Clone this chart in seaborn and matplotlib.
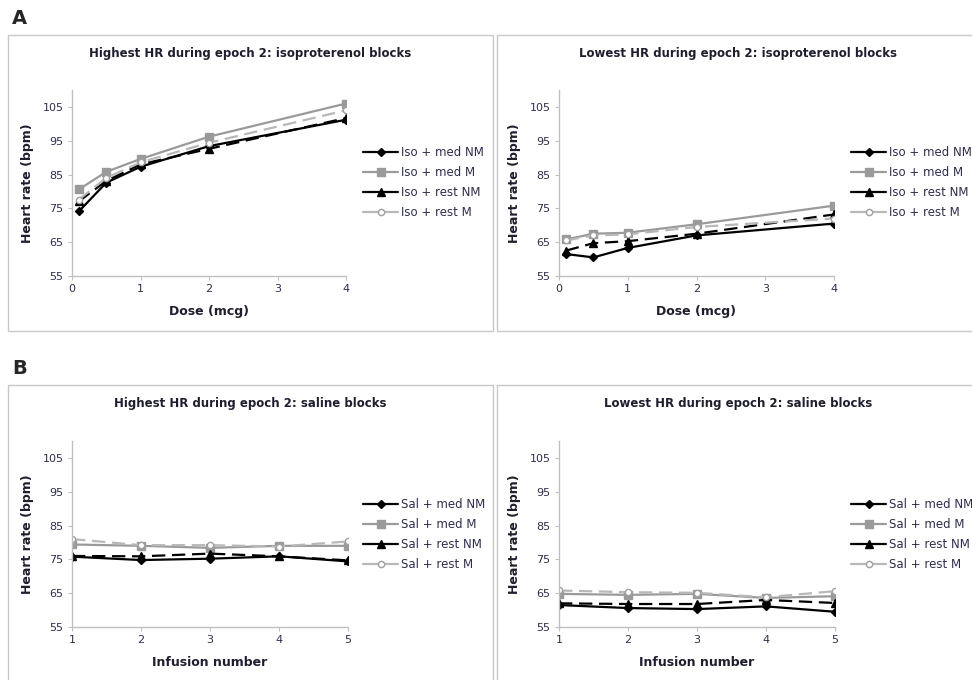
import matplotlib
matplotlib.use("Agg")
import matplotlib.pyplot as plt
from matplotlib.patches import Rectangle
import seaborn as sns
import pandas as pd

sns.set_theme(style="white")
plt.rcParams['font.family'] = ['DejaVu Sans']

# ---- data ----
dose = [0.1, 0.5, 1, 2, 4]
infusion = [1, 2, 3, 4, 5]

iso_high_med_nm = [74.1, 82.6, 87.3, 93.4, 101.2]
iso_high_med_m = [80.6, 85.8, 89.6, 96.2, 106.0]
iso_high_rest_nm = [77.1, 83.1, 88.0, 92.6, 101.7]
iso_high_rest_m = [77.6, 84.0, 88.6, 94.4, 104.0]

iso_low_med_nm = [61.5, 60.5, 63.3, 67.0, 70.5]
iso_low_med_m = [65.8, 67.5, 67.8, 70.3, 75.8]
iso_low_rest_nm = [62.5, 64.7, 65.3, 67.5, 73.2]
iso_low_rest_m = [65.5, 67.0, 67.3, 69.5, 72.0]

sal_high_med_nm = [75.8, 74.8, 75.2, 75.9, 74.4]
sal_high_med_m = [79.4, 79.0, 78.4, 79.0, 79.0]
sal_high_rest_nm = [76.0, 75.9, 76.7, 75.9, 74.7]
sal_high_rest_m = [81.0, 79.2, 79.2, 78.8, 80.3]

sal_low_med_nm = [61.5, 60.6, 60.3, 61.1, 59.5]
sal_low_med_m = [64.8, 64.5, 64.8, 63.6, 64.1]
sal_low_rest_nm = [62.0, 61.8, 61.8, 63.0, 62.1]
sal_low_rest_m = [65.8, 65.3, 65.1, 63.8, 65.6]

iso_labels = ["Iso + med NM", "Iso + med M", "Iso + rest NM", "Iso + rest M"]
sal_labels = ["Sal + med NM", "Sal + med M", "Sal + rest NM", "Sal + rest M"]

titles = ["Highest HR during epoch 2: isoproterenol blocks",
          "Lowest HR during epoch 2: isoproterenol blocks",
          "Highest HR during epoch 2: saline blocks",
          "Lowest HR during epoch 2: saline blocks"]

yticks = [55, 65, 75, 85, 95, 105]

# ---- styles ----
styles = [
    dict(color="black", linestyle="-", marker="D", markersize=4.5,
         markerfacecolor="black", markeredgecolor="black"),
    dict(color="#9a9a9a", linestyle="-", marker="s", markersize=6,
         markerfacecolor="#9a9a9a", markeredgecolor="#9a9a9a"),
    dict(color="black", linestyle=(0, (6, 3)), marker="^", markersize=6,
         markerfacecolor="black", markeredgecolor="black"),
    dict(color="#b8b8b8", linestyle=(0, (6, 3)), marker="o", markersize=4.5,
         markerfacecolor="white", markeredgecolor="#a0a0a0"),
]

W, H = 972, 680
fig = plt.figure(figsize=(W / 100, H / 100), dpi=100)

def fx(px):
    return px / W

def fy(py):
    return 1 - py / H

# panel boxes
for (x0, y0, x1, y1) in [(8, 35, 493, 331), (497, 35, 990, 331),
                         (8, 385, 493, 681), (497, 385, 990, 681)]:
    fig.patches.append(Rectangle((fx(x0), fy(y1)), fx(x1 - x0), (y1 - y0) / H,
                                 transform=fig.transFigure, fill=False,
                                 edgecolor="#c8c8c8", linewidth=1.0))

fig.text(fx(12), fy(18), "A", fontsize=14, fontweight="bold", va="center", ha="left")
fig.text(fx(12), fy(368), "B", fontsize=14, fontweight="bold", va="center", ha="left")

panels = [
    (72, 346, 90, 276, dose,
     [iso_high_med_nm, iso_high_med_m, iso_high_rest_nm, iso_high_rest_m],
     iso_labels, (0, 4), [0, 1, 2, 3, 4], "Dose (mcg)", 363, 146, 250, 53),
    (559, 834, 90, 276, dose,
     [iso_low_med_nm, iso_low_med_m, iso_low_rest_nm, iso_low_rest_m],
     iso_labels, (0, 4), [0, 1, 2, 3, 4], "Dose (mcg)", 851, 146, 738, 53),
    (72, 348, 441, 627, infusion,
     [sal_high_med_nm, sal_high_med_m, sal_high_rest_nm, sal_high_rest_m],
     sal_labels, (1, 5), [1, 2, 3, 4, 5], "Infusion number", 363, 498, 250, 404),
    (559, 835, 441, 627, infusion,
     [sal_low_med_nm, sal_low_med_m, sal_low_rest_nm, sal_low_rest_m],
     sal_labels, (1, 5), [1, 2, 3, 4, 5], "Infusion number", 851, 498, 738, 404),
]

tick_color = "#2e2e4e"

for i, (l, r, t, b, xs, series, labels, xlim, xticks, xlabel, lx, ly, tx, ty) in enumerate(panels):
    ax = fig.add_axes([fx(l), fy(b), fx(r - l), (b - t) / H])
    for vals, lab, st in zip(series, labels, styles):
        df = pd.DataFrame({"x": xs, "y": vals})
        sns.lineplot(data=df, x="x", y="y", ax=ax, label=lab, linewidth=1.6,
                     markeredgewidth=1.0, **st)
    ax.set_xlim(*xlim)
    ax.set_ylim(55, 110)
    ax.set_xticks(xticks)
    ax.set_yticks(yticks)
    for s in ["top", "right"]:
        ax.spines[s].set_visible(False)
    for s in ["left", "bottom"]:
        ax.spines[s].set_color("#c0c0c0")
        ax.spines[s].set_linewidth(1.0)
    ax.tick_params(axis="both", which="both", direction="out", length=3,
                   width=0.8, color="#c0c0c0", labelsize=8, labelcolor=tick_color,
                   pad=3, left=True, bottom=True)
    ax.set_xlabel(xlabel, fontsize=9, fontweight="bold", color="#1e1e2e", labelpad=8)
    ax.set_ylabel("Heart rate (bpm)", fontsize=9, fontweight="bold", color="#1e1e2e", labelpad=6)
    ax.set_facecolor("white")
    ax.grid(False)
    fig.text(fx(tx), fy(ty), titles[i], fontsize=8.5, fontweight="bold",
             ha="center", va="center", color="#1e1e2e")
    leg = ax.legend(loc="upper left", bbox_to_anchor=(fx(lx), fy(ly)),
                    bbox_transform=fig.transFigure, frameon=False,
                    fontsize=8.5, handlelength=3.0, handletextpad=0.2,
                    labelspacing=0.6, borderaxespad=0, borderpad=0)
    for txt in leg.get_texts():
        txt.set_color("#2e2e4e")
    for lh in leg.get_lines():
        lh.set_linestyle("-")

fig.savefig("out.png", dpi=100, facecolor="white")
